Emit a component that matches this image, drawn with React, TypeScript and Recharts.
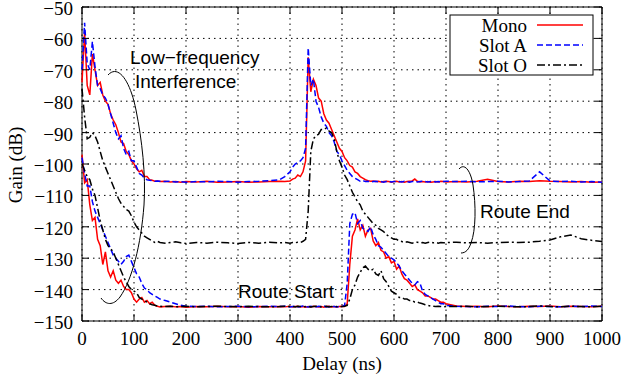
import React from 'react';
import { LineChart, Line, XAxis, YAxis, CartesianGrid, ReferenceArea } from 'recharts';

// delay grid (ns), finer where the responses change quickly
const delays = [
  0, 5, 10, 15, 20, 25, 30, 35, 40, 45, 50, 55, 60, 65, 70, 75, 80, 85, 90, 95,
  100, 105, 110, 115, 120, 125, 130, 135, 140, 145, 150,
  160, 170, 180, 190, 200,
  220, 240, 260, 280, 300, 320, 340, 360,
  380, 390, 400,
  405, 410, 415, 420, 425, 430, 435, 440, 445, 450, 455, 460, 465, 470, 475, 480, 485, 490, 495, 500,
  505, 510, 515, 520, 525, 530, 535, 540, 545, 550, 555, 560, 565, 570, 575, 580, 585, 590, 595, 600,
  605, 610, 615, 620, 625, 630, 635, 640, 645, 650, 655, 660, 665, 670, 675, 680, 685, 690, 695, 700,
  720, 740, 760, 780, 800, 820, 840, 860, 880, 900, 920, 940, 960, 980, 1000,
];

// Route End group
const monoEnd = [
  -74, -58, -75, -78, -65, -70, -75, -74, -78, -80,
  -81, -84, -86, -87.5, -90, -93, -93.5, -96, -97, -99,
  -100, -101.5, -102.5, -102, -104, -104, -105, -105.2, -105.5, -105.4,
  -105.6,
  -105.5, -105.7, -105.6, -105.8, -105.6,
  -105.7, -105.5, -105.8, -105.7, -105.6, -105.8, -105.7, -105.6,
  -105.5, -105.6, -105.4,
  -104.8, -104.5, -103.5, -104, -102.5, -99, -66, -77, -73, -75, -79, -80, -84, -86, -87, -89, -91, -93, -95, -96,
  -98, -99, -100.5, -101, -102.5, -103, -104, -104.5, -105, -105.3, -105.5, -105.4, -105.6, -105.5, -105.7, -105.6, -105.5, -105.6, -105.8, -105.6,
  -105.5, -105.7, -105.6, -105.8, -105.6, -105.5, -105.4, -104.8, -105.5, -105.7, -105.6, -105.7, -105.6, -105.8, -105.7, -105.6, -105.7, -105.5, -105.6, -105.7,
  -105.6, -105.7, -105.5, -104.9, -105.6, -105.7, -105.5, -105.6, -105.3, -105.5, -105.6, -105.7, -105.6, -105.8, -105.7,
];

const slotAEnd = [
  -70, -55, -68, -70, -61, -69, -75, -76, -78, -79,
  -81, -84, -87, -90, -92, -91, -95, -97, -96, -99,
  -99, -101, -103, -103.5, -104.5, -105, -105.2, -105.3, -105.5, -105.4,
  -105.5,
  -105.6, -105.5, -105.7, -105.6, -105.8,
  -105.6, -105.7, -105.5, -105.6, -105.8, -105.6, -105.5, -105.3,
  -105, -104, -102.5,
  -101, -100, -99.5, -99, -98, -95, -63, -75, -73, -80, -82, -85, -87, -88, -90, -91, -93, -96, -97, -99,
  -100.5, -102, -103, -104, -104.5, -105, -105.5, -105.3, -105.6, -105.5, -105.7, -105.6, -105.5, -105.7, -105.6, -105.8, -105.6, -105.5, -105.7, -105.6,
  -105.5, -105.6, -105.7, -105.5, -105.6, -105.8, -105.6, -105.5, -105.7, -105.6, -105.5, -105.6, -105.7, -105.6, -105.5, -105.7, -105.6, -105.8, -105.6, -105.5,
  -105.6, -105.5, -105.7, -105.6, -105.5, -105.7, -105.6, -105.4, -102.5, -105.4, -105.6, -105.5, -105.7, -105.6, -105.8,
];

const slotOEnd = [
  -76, -85, -92, -91.5, -90, -91, -93, -96, -99, -101,
  -103, -105, -107, -109, -111, -112.5, -113.5, -114.5, -115, -116.5,
  -118.5, -120, -121, -122, -123, -123.5, -124, -124.5, -125, -124.6,
  -125,
  -125.2, -125, -124.8, -125.1, -125.3,
  -125, -125.2, -124.9, -125.1, -125.3, -125, -125.2, -124.9,
  -125.1, -125, -125.2,
  -125, -125.1, -124.9, -125, -124.6, -124, -115, -96, -92, -91, -90.5, -89, -89, -88.5, -89.5, -90, -92, -96, -99, -101,
  -103.5, -105, -107, -109, -110.5, -112, -113, -115, -116, -117, -118, -119, -119.5, -120.5, -121, -121.5, -122.5, -123, -123.5, -124,
  -124, -124.5, -124.7, -125, -124.8, -125, -125.2, -125, -124.9, -125.1, -125, -125.2, -125, -124.9, -125.1, -125, -125.2, -125, -125.1, -125,
  -124.9, -125.1, -125, -125.2, -125, -124.9, -125, -124.9, -124.6, -124.2, -123.2, -122.6, -123.8, -124.3, -124.7,
];

// Route Start group
const monoStart = [
  -97, -106, -105, -113, -118, -117, -124, -126, -132, -128,
  -134, -136, -134, -137, -138, -137, -139, -140, -140, -141,
  -143, -144, -143, -142.5, -144, -143.5, -144.5, -144, -145, -145.3,
  -145.5,
  -145.4, -145.3, -145.5, -145.4, -145.6,
  -145.4, -145.5, -145.3, -145.5, -145.4, -145.6, -145.4, -145.5,
  -145.4, -145.5, -145.3,
  -145.5, -145.4, -145.3, -145.5, -145.4, -145.6, -145.4, -145.5, -145.3, -145.4, -145.5, -145.4, -145.6, -145.4, -145.3, -145.5, -145.4, -145.5, -145.4, -145.3,
  -145.4, -144.5, -132, -123, -121, -117.5, -121, -119.5, -123, -121, -120.5, -124.5, -126, -125, -127.5, -128, -130, -129.5, -131.5, -131,
  -133.5, -132.5, -135, -136.5, -137, -138, -139, -138.5, -140, -140.5, -141, -142, -142, -142.5, -143, -143, -143.5, -144, -144, -144.5,
  -145.2, -145.4, -145.3, -145.5, -145.2, -145.4, -145.5, -145.3, -145.4, -145.2, -145.5, -145.3, -145.4, -145.5, -145.3,
];

const slotAStart = [
  -98, -103, -107, -107, -112, -115, -117, -119, -121, -123,
  -125, -127, -129, -130, -131, -132, -131, -129.5, -129, -131,
  -133, -135, -136, -138, -139.5, -140, -141, -141.5, -142, -142.5,
  -143,
  -143.5, -144, -144.5, -145, -145.3,
  -145.4, -145.3, -145.5, -145.4, -145.3, -145.5, -145.4, -145.3,
  -145.4, -145.3, -145.5,
  -145.4, -145.3, -145.5, -145.4, -145.2, -145.4, -145.5, -145.3, -145.4, -145.5, -145.3, -145.4, -145.2, -145.5, -145.4, -145.3, -145.4, -145.5, -145.3, -145.4,
  -145, -138, -119, -116, -115.5, -119, -118, -120.5, -121, -121.5, -120, -122.5, -124, -126, -126.5, -127.5, -128.5, -129.5, -130, -130.5,
  -131.5, -132.5, -134, -135, -136, -137, -138, -138.5, -137.5, -138, -140.5, -141.5, -142, -142.5, -143, -143.5, -144, -144.5, -144.5, -145,
  -145.3, -145.4, -145.5, -145.3, -145.4, -145.2, -145.4, -145.5, -145.3, -145.4, -145.5, -145.3, -145.4, -145.2, -145.4,
];

const slotOStart = [
  -100, -102, -104, -105, -108, -110, -114, -118, -121, -124,
  -126, -127, -128, -130, -132, -134, -136, -137.5, -139, -140,
  -140.5, -141, -142.5, -143, -143.5, -144, -144.5, -144.8, -145, -145.2,
  -145.3,
  -145.4, -145.3, -145.5, -145.4, -145.3,
  -145.5, -145.4, -145.3, -145.4, -145.5, -145.3, -145.4, -145.5,
  -145.4, -145.3, -145.4,
  -145.4, -145.5, -145.3, -145.4, -145.5, -145.4, -145.3, -145.5, -145.4, -145.3, -145.4, -145.5, -145.4, -145.3, -145.5, -145.4, -145.3, -145.4, -145.5, -145.4,
  -145.3, -145, -143, -140, -138.5, -136, -134.5, -133, -132.5, -133.5, -134, -133.5, -135, -135.5, -134, -136.5, -137.5, -139, -140.5, -141,
  -141.5, -142.5, -142.5, -143, -143, -143.5, -143.5, -144, -144, -144.3, -144.5, -144.8, -145, -145.2, -145.3, -145.4, -145.3, -145.4, -145.5, -145.4,
  -145.4, -145.3, -145.5, -145.4, -145.3, -145.4, -145.5, -145.4, -145.2, -145.4, -145.5, -145.3, -145.4, -145.5, -145.3,
];

const xTicks = [0, 100, 200, 300, 400, 500, 600, 700, 800, 900, 1000];
const yTicks = [-150, -140, -130, -120, -110, -100, -90, -80, -70, -60, -50];

const MONO = { name: 'Mono', color: '#ff0000', dash: undefined as string | undefined };
const SLOT_A = { name: 'Slot A', color: '#0000ff', dash: '6 3' };
const SLOT_O = { name: 'Slot O', color: '#000000', dash: '8 3 2 3' };
const legendEntries = [MONO, SLOT_A, SLOT_O];

// drawing order: Mono, Slot A, Slot O (later ones on top)
const series = [
  { key: 'monoStart', style: MONO },
  { key: 'slotAStart', style: SLOT_A },
  { key: 'slotOStart', style: SLOT_O },
  { key: 'monoEnd', style: MONO },
  { key: 'slotAEnd', style: SLOT_A },
  { key: 'slotOEnd', style: SLOT_O },
];

const rows = delays.map((delay, i) => ({
  delay,
  monoEnd: monoEnd[i],
  slotAEnd: slotAEnd[i],
  slotOEnd: slotOEnd[i],
  monoStart: monoStart[i],
  slotAStart: slotAStart[i],
  slotOStart: slotOStart[i],
}));

const W = 624;
const H = 382;
const PLOT = { left: 82, right: 602, top: 7, bottom: 321 };
const TICK_LEN = 7;
const SERIF = '"Liberation Serif", "Times New Roman", serif';
const SANS = '"Liberation Sans", Arial, sans-serif';

const fmt = (v: number) => String(v).replace('-', '\u2212');

function XTick({ x, payload }: any) {
  return (
    <g>
      <line x1={x} x2={x} y1={PLOT.bottom} y2={PLOT.bottom - TICK_LEN} stroke="#000" />
      <line x1={x} x2={x} y1={PLOT.top} y2={PLOT.top + TICK_LEN} stroke="#000" />
      <text x={x} y={PLOT.bottom + 24} textAnchor="middle" fontFamily={SERIF} fontSize={19} fill="#000">
        {fmt(payload.value)}
      </text>
    </g>
  );
}

function YTick({ y, payload }: any) {
  return (
    <g>
      <line x1={PLOT.left} x2={PLOT.left + TICK_LEN} y1={y} y2={y} stroke="#000" />
      <line x1={PLOT.right} x2={PLOT.right - TICK_LEN} y1={y} y2={y} stroke="#000" />
      <text x={PLOT.left - 9} y={y + 8} textAnchor="end" fontFamily={SERIF} fontSize={19} fill="#000">
        {fmt(payload.value)}
      </text>
    </g>
  );
}

function Overlay() {
  return (
    <svg width={W} height={H} style={{ position: 'absolute', left: 0, top: 0, pointerEvents: 'none' }}>
      {/* axis titles */}
      <text x={(PLOT.left + PLOT.right) / 2} y={370} textAnchor="middle" fontFamily={SERIF} fontSize={19}>
        Delay (ns)
      </text>
      <text transform="translate(22,165) rotate(-90)" textAnchor="middle" fontFamily={SERIF} fontSize={19}>
        Gain (dB)
      </text>

      {/* annotations */}
      <path
        d="M108,75 C118,64 130,80 136,110 C142,140 146,175 144,205 C141,245 132,280 120,297 C113,306 106,305 101,298"
        fill="none" stroke="#000" strokeWidth={1}
      />
      <text x={130} y={64} fontFamily={SANS} fontSize={19} fill="#000">Low{'\u2212'}frequency</text>
      <text x={135} y={88} fontFamily={SANS} fontSize={19} fill="#000">Interference</text>
      <path
        d="M459,169 C465,162 471,172 473,185 C476,205 476,230 471,243 C469,249 466,253 461,253"
        fill="none" stroke="#000" strokeWidth={1}
      />
      <text x={480} y={218} fontFamily={SANS} fontSize={19} fill="#000">Route End</text>
      <text x={238} y={298} fontFamily={SANS} fontSize={19} fill="#000">Route Start</text>

      {/* legend */}
      <rect x={450} y={15} width={143} height={60} fill="#fff" stroke="#000" strokeWidth={1} />
      {legendEntries.map((e, i) => (
        <g key={e.name}>
          <text x={527} y={32 + i * 20} textAnchor="end" fontFamily={SERIF} fontSize={19} fill="#000">
            {e.name}
          </text>
          <line x1={537} x2={583} y1={25 + i * 20} y2={25 + i * 20} stroke={e.color} strokeWidth={1.5} strokeDasharray={e.dash} />
        </g>
      ))}
    </svg>
  );
}

export default function App() {
  return (
    <div style={{ position: 'absolute', left: 0, top: 0, width: W, height: H, background: '#fff' }}>
      <LineChart width={W} height={H} data={rows} margin={{ top: 7, right: 22, bottom: 21, left: 22 }}>
        <CartesianGrid stroke="#000" strokeDasharray="1.5 4" strokeWidth={1} />
        <XAxis
          dataKey="delay"
          type="number"
          domain={[0, 1000]}
          ticks={xTicks}
          interval={0}
          height={40}
          axisLine={false}
          tickLine={false}
          tick={<XTick />}
        />
        <YAxis
          type="number"
          domain={[-150, -50]}
          ticks={yTicks}
          interval={0}
          width={60}
          axisLine={false}
          tickLine={false}
          allowDataOverflow
          tick={<YTick />}
        />
        <ReferenceArea x1={0} x2={1000} y1={-150} y2={-50} fill="none" stroke="#000" strokeWidth={1} />
        {series.map((s) => (
          <Line
            key={s.key}
            dataKey={s.key}
            type="linear"
            stroke={s.style.color}
            strokeDasharray={s.style.dash}
            strokeWidth={1.5}
            dot={false}
            activeDot={false}
            legendType="none"
            isAnimationActive={false}
          />
        ))}
      </LineChart>
      <Overlay />
    </div>
  );
}
